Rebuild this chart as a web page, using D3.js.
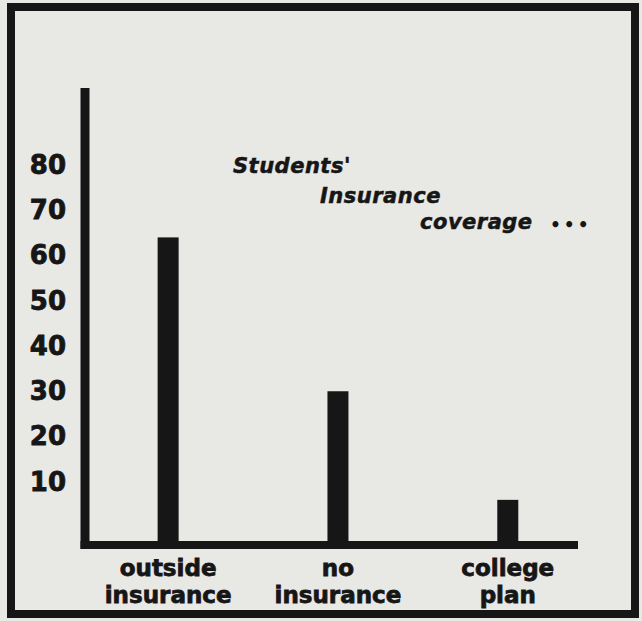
<!DOCTYPE html>
<html>
<head>
<meta charset="utf-8">
<style>
  body { margin: 0; background: #e8e8e5; }
  svg text { font-family: "DejaVu Sans", sans-serif; font-weight: bold; fill: #161616; }
</style>
</head>
<body>
<svg id="chart" width="642" height="621"></svg>
<script src="https://cdn.jsdelivr.net/npm/d3@7/dist/d3.min.js"></script>
<script>
var categories = ["outside insurance", "no insurance", "college plan"];
var shares = [64, 30, 6];
var tickValues = [10, 20, 30, 40, 50, 60, 70, 80];
var titleLines = ["Students'", "Insurance", "coverage"];

var ink = "#161616";

var svg = d3.select("#chart"),
    margin = {top: 88, right: 64, bottom: 76, left: 85},
    width = +svg.attr("width") - margin.left - margin.right,
    height = +svg.attr("height") - margin.top - margin.bottom,
    g = svg.append("g").attr("transform", "translate(" + margin.left + "," + margin.top + ")");

// paper frame
svg.append("rect")
    .attr("x", 11)
    .attr("y", 7)
    .attr("width", 624)
    .attr("height", 607)
    .attr("fill", "none")
    .attr("stroke", ink)
    .attr("stroke-width", 8);

// zero sits a little above the drawn baseline, as in the print
var y = d3.scaleLinear()
    .domain([0, 80])
    .range([height - 18, 77]);

var x = d3.scalePoint()
    .domain(categories)
    .range([-4, width + 4])
    .padding(0.475)
    .align(0.54);

// y tick labels
g.append("g")
    .call(d3.axisLeft(y).tickValues(tickValues).tickSize(0).tickPadding(19))
    .call(function(a) { a.select(".domain").remove(); })
    .selectAll("text")
    .attr("font-size", 26)
    .attr("font-family", "DejaVu Sans")
    .attr("font-weight", "bold")
    .attr("fill", ink)
    .attr("stroke", ink)
    .attr("stroke-width", 0.8);

// axis lines
g.append("line")
    .attr("x1", 0).attr("x2", 0)
    .attr("y1", 0).attr("y2", height + 4)
    .attr("stroke", ink)
    .attr("stroke-width", 9);

g.append("line")
    .attr("x1", -4.5).attr("x2", width)
    .attr("y1", height).attr("y2", height)
    .attr("stroke", ink)
    .attr("stroke-width", 8);

// bars
var barWidth = 21;
g.selectAll(".bar")
    .data(shares)
  .enter().append("rect")
    .attr("class", "bar")
    .attr("x", function(d, i) { return x(categories[i]) - barWidth / 2; })
    .attr("y", function(d) { return y(d); })
    .attr("width", barWidth)
    .attr("height", function(d) { return height - y(d); })
    .attr("fill", ink);

// category labels, two lines each
var labels = g.selectAll(".cat")
    .data(categories)
  .enter().append("text")
    .attr("class", "cat")
    .attr("text-anchor", "middle")
    .attr("font-size", 23)
    .attr("stroke", ink)
    .attr("stroke-width", 0.8);

labels.selectAll("tspan")
    .data(function(d) { return d.split(" ").map(function(w) { return {w: w, c: d}; }); })
  .enter().append("tspan")
    .attr("x", function(d) { return x(d.c); })
    .attr("y", function(d, i) { return height + 31 + i * 27; })
    .text(function(d) { return d.w; });

// stepped italic title
var titleX = [233, 320, 420],
    titleY = [173, 203, 229];

svg.selectAll(".title")
    .data(titleLines)
  .enter().append("text")
    .attr("class", "title")
    .attr("x", function(d, i) { return titleX[i]; })
    .attr("y", function(d, i) { return titleY[i]; })
    .attr("font-size", 21)
    .attr("font-style", "italic")
    .attr("letter-spacing", 0.5)
    .attr("stroke", ink)
    .attr("stroke-width", 0.5)
    .text(function(d) { return d; });

svg.append("text")
    .attr("x", 550)
    .attr("y", 231)
    .attr("font-size", 17)
    .attr("letter-spacing", 3)
    .text("•••");
</script>
</body>
</html>
